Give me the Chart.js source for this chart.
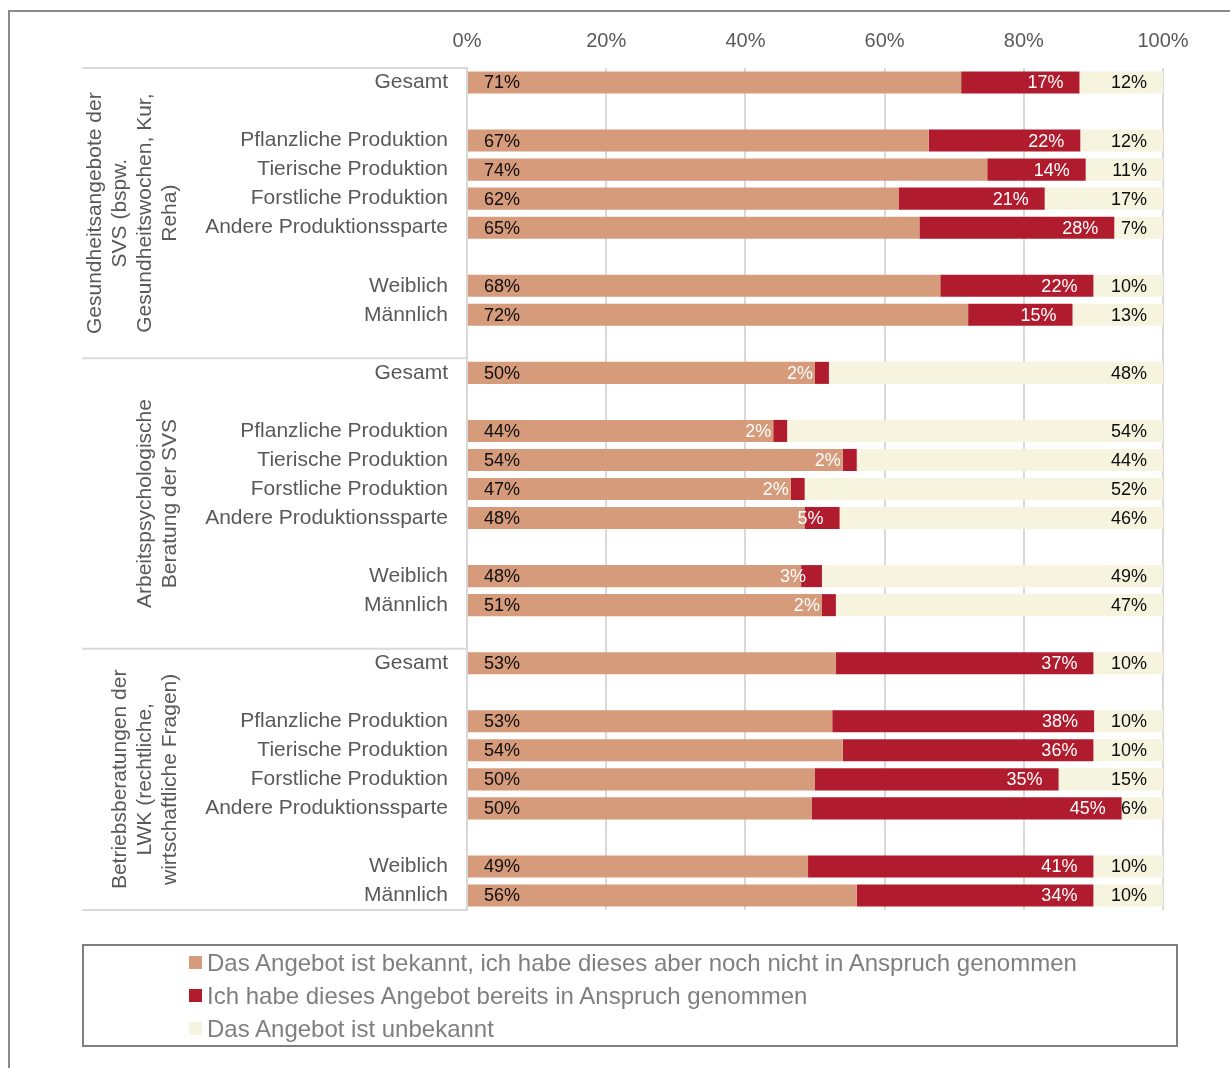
<!DOCTYPE html>
<html>
<head>
<meta charset="utf-8">
<script src="https://cdn.jsdelivr.net/npm/chart.js@4.4.0/dist/chart.umd.min.js"></script>
<style>
body { margin: 0; background: #fff; font-family: "Liberation Sans", Arial, sans-serif; }
#wrap { position: relative; width: 1230px; height: 1068px; overflow: hidden; }
#frame { position: absolute; left: 8px; top: 10px; width: 1300px; height: 1200px; border: 2px solid #8a8a8a; box-sizing: border-box; }
canvas { position: absolute; left: 0; top: 0; }
#legend { position: absolute; left: 82px; top: 944px; width: 1096px; height: 103px; border: 2px solid #7f7f7f; box-sizing: border-box; padding-left: 105px; }
.item { font-size: 24px; color: #7f7f7f; height: 33px; display: flex; align-items: center; }
.sw { width: 13px; height: 13px; margin-right: 5px; flex: none; }
</style>
</head>
<body>
<div id="wrap">
  <div id="frame"></div>
  <canvas id="chart" width="1230" height="1068"></canvas>
  <div id="legend"></div>
</div>
<script>
// rows inside each block
const rowLabels = ['Gesamt', 'Pflanzliche Produktion', 'Tierische Produktion', 'Forstliche Produktion',
  'Andere Produktionssparte', 'Weiblich', 'Männlich'];
const groupTitles = [
  ['Gesundheitsangebote der', 'SVS (bspw.', 'Gesundheitswochen, Kur,', 'Reha)'],
  ['Arbeitspsychologische', 'Beratung der SVS'],
  ['Betriebsberatungen der', 'LWK (rechtliche,', 'wirtschaftliche Fragen)']
];
const seriesNames = [
  'Das Angebot ist bekannt, ich habe dieses aber noch nicht in Anspruch genommen',
  'Ich habe dieses Angebot bereits in Anspruch genommen',
  'Das Angebot ist unbekannt'
];
const colors = ['#D69B7A', '#B01C2E', '#F6F3DE'];

// values per block (same order as rowLabels)
const known = [
  [71, 67, 74, 62, 65, 68, 72],
  [50, 44, 54, 47, 48, 48, 51],
  [53, 53, 54, 50, 50, 49, 56]
];
const used = [
  [17, 22, 14, 21, 28, 22, 15],
  [2, 2, 2, 2, 5, 3, 2],
  [37, 38, 36, 35, 45, 41, 34]
];
const unknown = [
  [12, 12, 11, 17, 7, 10, 13],
  [48, 54, 44, 52, 46, 49, 47],
  [10, 10, 10, 15, 6, 10, 10]
];

// layout of one block: null = empty spacer row
const pattern = [0, null, 1, 2, 3, 4, null, 5, 6];

const labels = [];
const raw = [[], [], []];
const groupStart = [];
groupTitles.forEach((_, g) => {
  if (g > 0) { labels.push(''); raw.forEach(r => r.push(null)); }
  groupStart.push(labels.length);
  pattern.forEach(p => {
    labels.push(p === null ? '' : rowLabels[p]);
    [known, used, unknown].forEach((src, s) => raw[s].push(p === null ? null : src[g][p]));
  });
});

// 100% stacked: scale each row by its sum
const normalized = raw.map(series => series.map((v, i) => {
  if (v === null) return null;
  const sum = raw[0][i] + raw[1][i] + raw[2][i];
  return v / sum * 100;
}));

const FONT = '"Liberation Sans", Arial, sans-serif';
Chart.defaults.font.family = FONT;

const barLabels = {
  id: 'barLabels',
  afterDatasetsDraw(chart) {
    const ctx = chart.ctx;
    ctx.save();
    ctx.font = '18px ' + FONT;
    ctx.textBaseline = 'middle';
    chart.data.datasets.forEach((ds, di) => {
      chart.getDatasetMeta(di).data.forEach((bar, i) => {
        const v = ds.raw[i];
        if (v === null || v === undefined) return;
        const left = Math.min(bar.base, bar.x), right = Math.max(bar.base, bar.x);
        if (di === 0) {
          ctx.textAlign = 'left'; ctx.fillStyle = '#0d0d0d';
          ctx.fillText(v + '%', left + 16, bar.y + 1);
        } else {
          ctx.textAlign = 'right'; ctx.fillStyle = di === 1 ? '#ffffff' : '#0d0d0d';
          ctx.fillText(v + '%', right - 16, bar.y + 1);
        }
      });
    });
    ctx.restore();
  }
};

const groups = {
  id: 'groups',
  afterDraw(chart) {
    const { ctx, chartArea, scales: { y } } = chart;
    const half = (y.getPixelForValue(1) - y.getPixelForValue(0)) / 2;
    const bounds = [chartArea.top];
    groupStart.slice(1).forEach(i => bounds.push(y.getPixelForValue(i) - half));
    bounds.push(chartArea.bottom);
    ctx.save();
    ctx.strokeStyle = '#d9d9d9';
    ctx.lineWidth = 2;
    bounds.forEach(b => {
      ctx.beginPath(); ctx.moveTo(82, b); ctx.lineTo(chartArea.left, b); ctx.stroke();
    });
    ctx.fillStyle = '#595959';
    ctx.font = '21px ' + FONT;
    ctx.textAlign = 'center';
    ctx.textBaseline = 'middle';
    groupTitles.forEach((lines, g) => {
      const cy = (bounds[g] + bounds[g + 1]) / 2;
      lines.forEach((line, k) => {
        const x = 170 - (lines.length - 1 - k) * 25;
        ctx.save();
        ctx.translate(x, cy);
        ctx.rotate(-Math.PI / 2);
        ctx.fillText(line, 0, 0);
        ctx.restore();
      });
    });
    ctx.restore();
  }
};

new Chart(document.getElementById('chart'), {
  type: 'bar',
  data: {
    labels: labels,
    datasets: seriesNames.map((name, s) => ({
      label: name,
      data: normalized[s],
      raw: raw[s],
      backgroundColor: colors[s],
      borderWidth: 0,
      barPercentage: 0.76,
      categoryPercentage: 1
    }))
  },
  options: {
    responsive: false,
    animation: false,
    indexAxis: 'y',
    layout: { padding: { top: 0, left: 0, right: 67, bottom: 158 } },
    plugins: { legend: { display: false }, tooltip: { enabled: false } },
    scales: {
      x: {
        position: 'top', stacked: true, min: 0, max: 100,
        ticks: { stepSize: 20, padding: 15, color: '#595959', font: { size: 20 }, callback: v => v + '%' },
        grid: { color: '#d9d9d9', lineWidth: 2, drawTicks: false },
        border: { display: false },
        afterFit(s) { s.height = 68; }
      },
      y: {
        stacked: true,
        ticks: { autoSkip: false, padding: 11, color: '#595959', font: { size: 21 } },
        grid: { display: false },
        border: { display: true, color: '#d9d9d9', width: 2 },
        afterFit(s) { s.width = 467; }
      }
    }
  },
  plugins: [barLabels, groups]
});

// legend
const legend = document.getElementById('legend');
seriesNames.forEach((name, s) => {
  const row = document.createElement('div');
  row.className = 'item';
  row.innerHTML = `<span class="sw" style="background:${colors[s]}"></span><span>${name}</span>`;
  legend.appendChild(row);
});
</script>
</body>
</html>
